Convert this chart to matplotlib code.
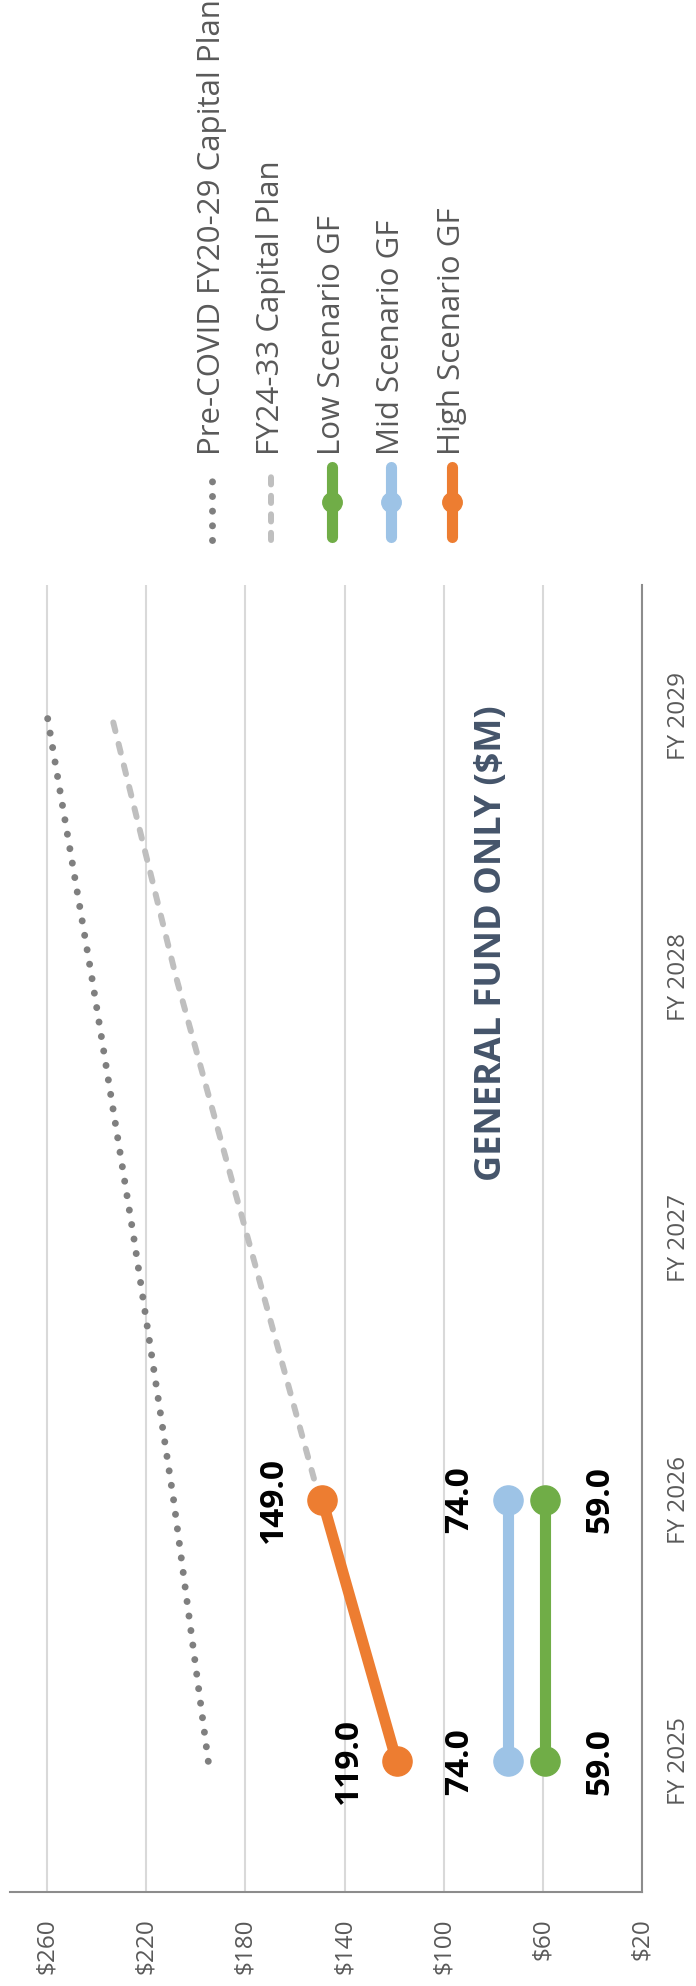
import matplotlib
matplotlib.use("Agg")
import matplotlib.pyplot as plt
from matplotlib.lines import Line2D
import numpy as np

plt.rcParams['font.family'] = ['Open Sans', 'DejaVu Sans']

# === data ===
years = ["FY 2025", "FY 2026", "FY 2027", "FY 2028", "FY 2029"]
pre_covid = [195, 209, 225, 242, 260]
fy24_33 = [np.nan, 150, 179, 208, 234]
low_gf = [59, 59]
mid_gf = [74, 74]
high_gf = [119, 149]
value_ticks = [260, 220, 180, 140, 100, 60, 20]

series_names = ["Pre-COVID FY20-29 Capital Plan", "FY24-33 Capital Plan",
                "Low Scenario GF", "Mid Scenario GF", "High Scenario GF"]

GRAY_TXT = "#595959"
C_PRE = "#7F7F7F"
C_FY24 = "#BFBFBF"
C_LOW = "#70AD47"
C_MID = "#9DC3E6"
C_HIGH = "#ED7D31"

W, H = 696, 1986
fig = plt.figure(figsize=(W / 100, H / 100), dpi=100)

def fx(x):
    return x / W

def fy(y):
    return 1 - y / H

# chart is drawn turned by 90 degrees: value axis runs right to left at the bottom
ax = fig.add_axes([fx(10), fy(1892), fx(642) - fx(10), fy(585) - fy(1892)])
pos = np.arange(len(years))

ax.plot(pre_covid, pos, color=C_PRE, lw=5, linestyle=(0, (0.01, 2.1)),
        dash_capstyle="round", zorder=3)
ax.plot(fy24_33, pos, color=C_FY24, lw=4.3, linestyle=(0, (1.5, 2.2)),
        dash_capstyle="round", zorder=3)

for vals, c in [(low_gf, C_LOW), (mid_gf, C_MID), (high_gf, C_HIGH)]:
    ax.plot(vals, pos[:len(vals)], color=c, lw=8, marker="o", ms=21,
            solid_capstyle="round", zorder=4)

# data labels
lab_kw = dict(textcoords="offset points", rotation=90, ha="center", va="center",
              fontsize=24, fontweight="bold", color="black", zorder=5)
for i, v in enumerate(high_gf):
    ax.annotate(f"{v:.1f}", (v, pos[i]), xytext=(-35, 0), **lab_kw)
for i, v in enumerate(mid_gf):
    ax.annotate(f"{v:.1f}", (v, pos[i]), xytext=(-35, 0), **lab_kw)
for i, v in enumerate(low_gf):
    ax.annotate(f"{v:.1f}", (v, pos[i]), xytext=(39, 0), **lab_kw)

ax.text(80.5, 3.13, "GENERAL FUND ONLY ($M)", rotation=90, ha="center", va="center",
        fontsize=26, fontweight="bold", color="#44546A")

ax.set_xlim(275, 20)
ax.set_ylim(-0.5, 4.5)
ax.set_xticks(value_ticks)
ax.set_xticklabels([f"${v}" for v in value_ticks])
ax.set_yticks(pos)
ax.set_yticklabels(years)
ax.yaxis.tick_right()

ax.grid(axis="x", color="#D9D9D9", lw=1.5, zorder=0)
ax.set_axisbelow(True)
for s in ["left", "top"]:
    ax.spines[s].set_visible(False)
for s in ["right", "bottom"]:
    ax.spines[s].set_color("#8C8C8C")
    ax.spines[s].set_linewidth(1.5)

ax.tick_params(axis="x", length=0, pad=19, labelrotation=90, labelsize=17.5, labelcolor=GRAY_TXT)
ax.tick_params(axis="y", length=0, pad=18, labelrotation=90, labelsize=17.5, labelcolor=GRAY_TXT)
for t in ax.get_yticklabels():
    t.set_verticalalignment("center")

# legend, also turned
leg_x = [212, 271, 332, 391, 452]
styles = [
    dict(color=C_PRE, lw=5, linestyle=(0, (0.01, 2.1)), dash_capstyle="round"),
    dict(color=C_FY24, lw=4.3, linestyle=(0, (1.2, 1.9)), dash_capstyle="round"),
    dict(color=C_LOW, lw=8, solid_capstyle="round"),
    dict(color=C_MID, lw=8, solid_capstyle="round"),
    dict(color=C_HIGH, lw=8, solid_capstyle="round"),
]
for i, (name, x) in enumerate(zip(series_names, leg_x)):
    if i < 2:
        y0, y1 = 468, 540
    else:
        y0, y1 = 467, 537
    fig.add_artist(Line2D([fx(x), fx(x)], [fy(y1), fy(y0)], **styles[i]))
    if i >= 2:
        fig.add_artist(Line2D([fx(x)], [fy(502)], marker="o", ms=14,
                              color=styles[i]["color"], lw=0))
    fig.text(fx(x), fy(455), name, rotation=90, ha="center", va="bottom",
             fontsize=22.5, color=GRAY_TXT)

fig.savefig("out.png", dpi=100)
